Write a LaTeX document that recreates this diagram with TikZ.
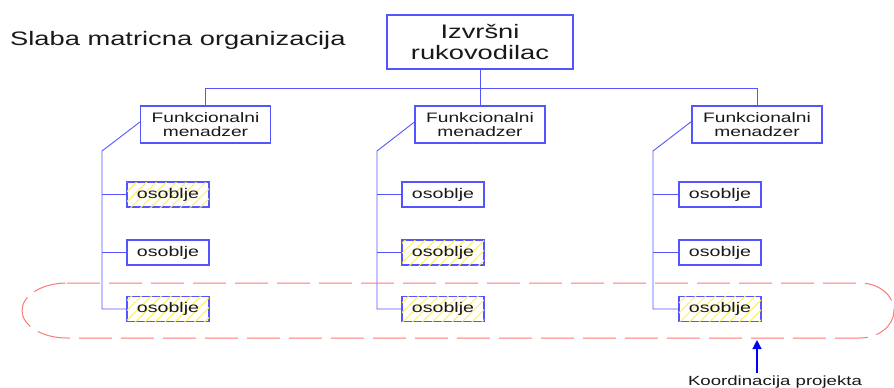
\documentclass[tikz,border=0pt]{standalone}
\usepackage{fontspec}
\setmainfont{Liberation Sans}
\usetikzlibrary{patterns.meta,arrows.meta}
\definecolor{lblue}{RGB}{85,85,255}
\definecolor{lred}{RGB}{255,120,120}
\definecolor{hyel}{RGB}{255,240,90}
\definecolor{txt}{RGB}{25,25,25}
\newcommand{\widetxt}[1]{\scalebox{1.4}[1]{#1}}
\tikzset{
  box/.style={draw=lblue, line width=1.1pt, fill=white, text=txt, inner sep=0pt, align=center},
  mainbox/.style={box, minimum width=186pt, minimum height=54pt, font=\fontsize{19.5}{21}\selectfont},
  mgrbox/.style={box, minimum width=130pt, minimum height=37pt, font=\fontsize{13.7}{14.5}\selectfont},
  obox/.style={box, minimum width=82pt, minimum height=25pt, font=\fontsize{14}{15}\selectfont},
  hatched/.style={postaction={pattern={Lines[angle=45,distance=7pt,line width=1pt]}, pattern color=hyel}},
  conn/.style={draw=lblue, line width=0.9pt},
  loop/.style={draw=lred, line width=1pt, dash pattern=on 33pt off 9pt},
  arr/.style={draw=blue, fill=blue, line width=1.2pt, -{Triangle[width=9pt,length=9pt]}}
}
\begin{document}
\begin{tikzpicture}[x=1pt,y=-1pt]
\useasboundingbox[fill=white] (0,0) rectangle (894,388);
% title
\node[anchor=base west, inner sep=0pt, text=txt, font=\fontsize{19.5}{21}\selectfont] (title) at (10,45) {\widetxt{Slaba matricna organizacija}};
% main
\node[mainbox] (main) at (480,42) {\widetxt{Izvršni}\\\widetxt{rukovodilac}};
% managers
\node[mgrbox] (m1) at (205.5,124.5) {\widetxt{Funkcionalni}\\\widetxt{menadzer}};
\node[mgrbox] (m2) at (480,124.5) {\widetxt{Funkcionalni}\\\widetxt{menadzer}};
\node[mgrbox] (m3) at (757,124.5) {\widetxt{Funkcionalni}\\\widetxt{menadzer}};
% staff
\node[obox,hatched] (a1) at (168,194.5) {\widetxt{osoblje}};
\node[obox] (a2) at (168,252.5) {\widetxt{osoblje}};
\node[obox,hatched] (a3) at (168,309) {\widetxt{osoblje}};
\node[obox] (b1) at (443,194.5) {\widetxt{osoblje}};
\node[obox,hatched] (b2) at (443,252.5) {\widetxt{osoblje}};
\node[obox,hatched] (b3) at (443,309) {\widetxt{osoblje}};
\node[obox] (c1) at (720,194.5) {\widetxt{osoblje}};
\node[obox] (c2) at (720,252.5) {\widetxt{osoblje}};
\node[obox,hatched] (c3) at (720,309) {\widetxt{osoblje}};
% bar
\coordinate (bar) at (480,88);
\draw[conn] (main.south) -- (m2.north);
\draw[conn] (m1.north) -- (m1.north |- bar) -- (m3.north |- bar) -- (m3.north);
% spines
\coordinate (s1) at (102,151);
\coordinate (s2) at (377,151);
\coordinate (s3) at (653,151);
\draw[conn] ([yshift=2.5pt]m1.west) -- (s1) |- (a3.west);
\draw[conn] (s1 |- a1.west) -- (a1.west);
\draw[conn] (s1 |- a2.west) -- (a2.west);
\draw[conn] ([yshift=2.5pt]m2.west) -- (s2) |- (b3.west);
\draw[conn] (s2 |- b1.west) -- (b1.west);
\draw[conn] (s2 |- b2.west) -- (b2.west);
\draw[conn] ([yshift=3pt]m3.west) -- (s3) |- (c3.west);
\draw[conn] (s3 |- c1.west) -- (c1.west);
\draw[conn] (s3 |- c2.west) -- (c2.west);
% dashed loop
\draw[loop] (67,283) -- (860,283) arc[start angle=-90, end angle=90, x radius=34, y radius=27.5] -- (67,338) arc[start angle=90, end angle=270, x radius=45, y radius=27.5] -- cycle;
% arrow and label
\coordinate (tip) at (757,340);
\coordinate (tail) at (757,373);
\node[anchor=base, inner sep=0pt, text=txt, font=\fontsize{13.3}{14}\selectfont] (koord) at (775,385.5) {\widetxt{Koordinacija projekta}};
\draw[arr] (tail) -- (tip);
\end{tikzpicture}
\end{document}
